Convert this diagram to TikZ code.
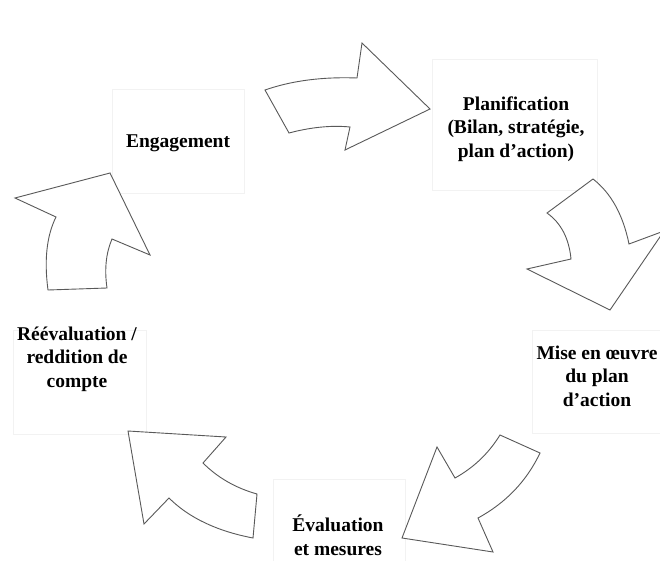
\documentclass[tikz,border=0pt]{standalone}
\usepackage{fontspec}
\setmainfont{Liberation Serif}
\begin{document}
\begin{tikzpicture}[x=1pt,y=-1pt,
  blockarrow/.style={draw=black!65,line width=0.9pt,fill=white,line join=miter},
  frame/.style={draw=black!5,line width=0.8pt},
  label/.style={align=center,inner sep=0pt,font=\bfseries\fontsize{19.5}{23.5}\selectfont}]
\useasboundingbox (0,0) rectangle (660,561);
\fill[white] (0,0) rectangle (660,561);

% faint frames behind the stage labels
\draw[frame] (112,89) rectangle (244,193);
\draw[frame] (432,59) rectangle (597,190);
\draw[frame] (532,330) rectangle (668,433);
\draw[frame] (273,479) rectangle (405,568);
\draw[frame] (13,330) rectangle (146,434);

% stage labels
\node[label] (eng)  at (178,143) {Engagement};
\node[label] (plan) at (516,129) {Planification\\(Bilan, stratégie,\\plan d’action)};
\node[label] (mise) at (597,376) {Mise en œuvre\\du plan\\d’action};
\node[label] (eval) at (338,535) {Évaluation\\et mesures};
\node[label] (reev) at (77,359) {Réévaluation /\\reddition de\\compte};

% curved block arrows around the cycle
\begin{scope}
\clip (0,0) rectangle (660,561);
% Engagement -> Planification
\draw[blockarrow] (265,90) .. controls (291.7,80.7) and (322.3,76.7) .. (357,78)
  -- (362,43) -- (430,109) -- (345,150) -- (350,127)
  .. controls (330,125) and (309,127.7) .. (289,133) -- cycle;
% Planification -> Mise en oeuvre
\draw[blockarrow] (593,179) .. controls (611,193) and (623,214.7) .. (629,244)
  -- (664,231) -- (610,310) -- (527,269) -- (571,259)
  .. controls (569,238.3) and (561,223) .. (547,213) -- cycle;
% Mise en oeuvre -> Evaluation
\draw[blockarrow] (500,435) -- (540,453) .. controls (526.7,481) and (506,502.7) .. (478,518)
  -- (493,552) -- (402,538) -- (437,447) -- (455,478)
  .. controls (473,468) and (488,454.3) .. cycle;
% Evaluation -> Reevaluation
\draw[blockarrow] (128,431) -- (226,437) -- (203,463)
  .. controls (217.7,477.7) and (235.7,488) .. (257,494)
  -- (253,538) .. controls (217.7,531.3) and (189,518) .. (169,498) -- (144,524) -- cycle;
% Reevaluation -> Engagement
\draw[blockarrow] (110,173) -- (150,255) -- (112,239)
  .. controls (106,253) and (104.3,269.3) .. (107,288)
  -- (48,290) .. controls (44,260) and (46.7,235.7) .. (56,217) -- (15,198) -- cycle;
\end{scope}
\end{tikzpicture}
\end{document}
